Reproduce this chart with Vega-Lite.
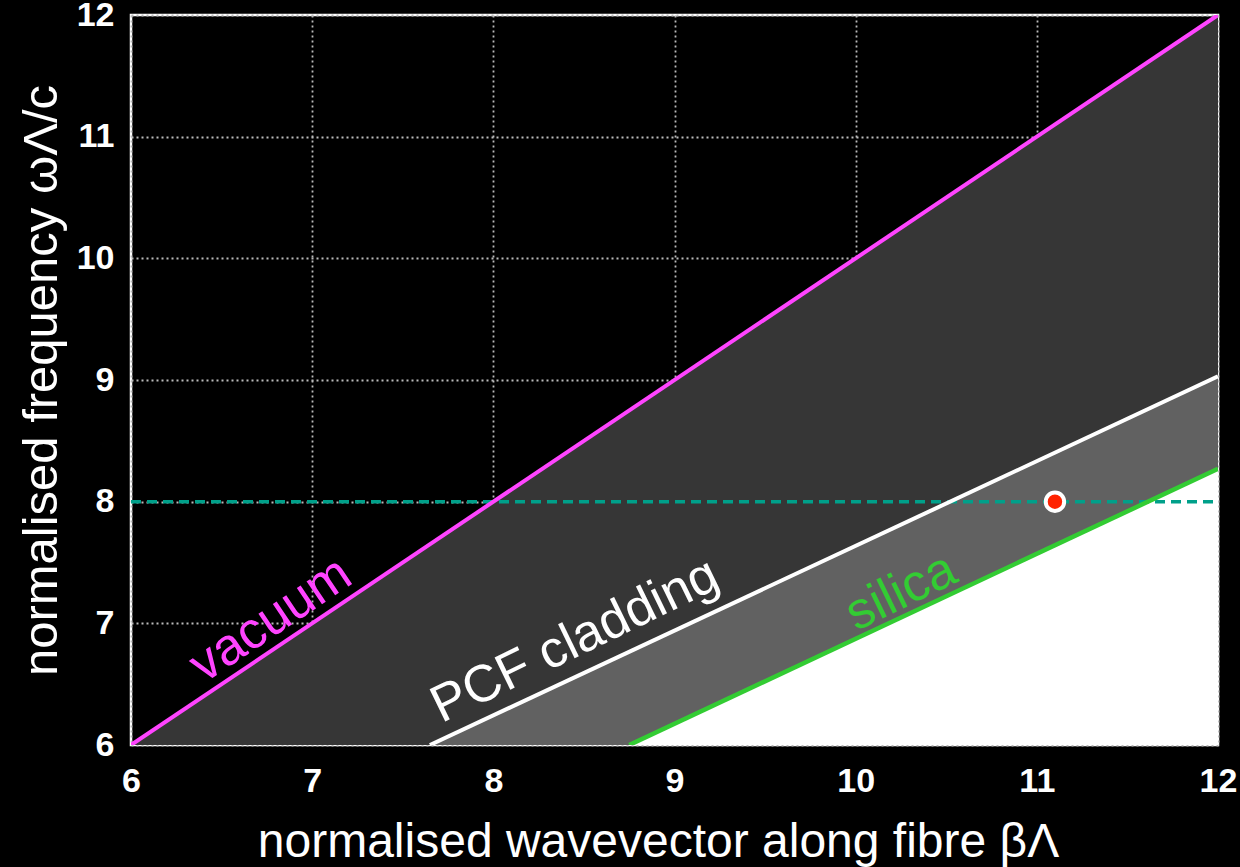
{
  "$schema": "https://vega.github.io/schema/vega-lite/v6.json",
  "width": 1087,
  "height": 730,
  "autosize": {"type": "none"},
  "padding": {"left": 131, "top": 15, "right": 22, "bottom": 122},
  "background": "#000000",
  "config": {
    "view": {"stroke": "#ffffff", "strokeWidth": 2.5, "fill": "#000000"},
    "font": "Liberation Sans",
    "axis": {
      "zindex": 1,
      "domain": false,
      "ticks": false,
      "grid": true,
      "gridColor": "#bbbbbb",
      "gridDash": [2, 3],
      "gridWidth": 1.8,
      "gridOpacity": 1,
      "labelColor": "#ffffff",
      "labelFont": "Liberation Sans",
      "labelFontSize": 34,
      "labelFontWeight": "bold",
      "labelFlush": false,
      "labelOverlap": false,
      "titleColor": "#ffffff",
      "titleFont": "Liberation Sans",
      "titleFontWeight": "normal"
    }
  },
  "datasets": {
    "curves": [
      {"curve": "vacuum", "beta": 6, "omega": 6},
      {"curve": "vacuum", "beta": 12, "omega": 12},
      {"curve": "pcf", "beta": 7.65, "omega": 6},
      {"curve": "pcf", "beta": 12, "omega": 9.03},
      {"curve": "silica", "beta": 8.75, "omega": 6},
      {"curve": "silica", "beta": 12, "omega": 8.27},
      {"curve": "frequency", "beta": 6, "omega": 8},
      {"curve": "frequency", "beta": 12, "omega": 8}
    ],
    "labels": [
      {"label": "vacuum", "beta": 6.77, "omega": 7.03},
      {"label": "PCF cladding", "beta": 8.45, "omega": 6.86},
      {"label": "silica", "beta": 10.25, "omega": 7.26}
    ],
    "mode": [
      {"beta": 11.1, "omega": 8.0}
    ]
  },
  "encoding": {
    "x": {
      "field": "beta", "type": "quantitative",
      "scale": {"domain": [6, 12], "nice": false, "zero": false},
      "axis": {"values": [6, 7, 8, 9, 10, 11, 12], "labelPadding": 19, "titlePadding": 20, "titleFontSize": 48, "titleX": 527, "title": "normalised wavevector along fibre βΛ"}
    },
    "y": {
      "field": "omega", "type": "quantitative",
      "scale": {"domain": [6, 12], "nice": false, "zero": false},
      "axis": {"values": [6, 7, 8, 9, 10, 11, 12], "labelPadding": 17, "titlePadding": 10, "titleFontSize": 49, "title": "normalised frequency ωΛ/c"}
    }
  },
  "layer": [
    {
      "data": {"name": "curves"},
      "transform": [{"filter": "datum.curve === 'vacuum'"}],
      "mark": {"type": "area", "color": "#363636", "clip": true},
      "encoding": {"y2": {"datum": 6}}
    },
    {
      "data": {"name": "curves"},
      "transform": [{"filter": "datum.curve === 'pcf'"}],
      "mark": {"type": "area", "color": "#616161", "clip": true},
      "encoding": {"y2": {"datum": 6}}
    },
    {
      "data": {"name": "curves"},
      "transform": [{"filter": "datum.curve === 'silica'"}],
      "mark": {"type": "area", "color": "#ffffff", "clip": true},
      "encoding": {"y2": {"datum": 6}}
    },
    {
      "data": {"name": "curves"},
      "transform": [{"filter": "datum.curve === 'frequency'"}],
      "mark": {"type": "line", "color": "#00a08a", "strokeWidth": 3.5, "strokeDash": [10, 6], "clip": true}
    },
    {
      "data": {"name": "curves"},
      "transform": [{"filter": "datum.curve === 'vacuum'"}],
      "mark": {"type": "line", "color": "#ff44ff", "strokeWidth": 4, "clip": true}
    },
    {
      "data": {"name": "curves"},
      "transform": [{"filter": "datum.curve === 'pcf'"}],
      "mark": {"type": "line", "color": "#ffffff", "strokeWidth": 4, "clip": true}
    },
    {
      "data": {"name": "curves"},
      "transform": [{"filter": "datum.curve === 'silica'"}],
      "mark": {"type": "line", "color": "#33cc33", "strokeWidth": 4.5, "clip": true}
    },
    {
      "data": {"name": "mode"},
      "mark": {"type": "point", "shape": "circle", "filled": true, "fill": "#ff2200", "stroke": "#ffffff", "strokeWidth": 4, "size": 340, "opacity": 1}
    },
    {
      "data": {"name": "labels"},
      "transform": [{"filter": "datum.label === 'vacuum'"}],
      "mark": {"type": "text", "color": "#ff44ff", "fontSize": 52, "angle": 326, "align": "center", "baseline": "middle", "font": "Liberation Sans"},
      "encoding": {"text": {"field": "label"}}
    },
    {
      "data": {"name": "labels"},
      "transform": [{"filter": "datum.label === 'PCF cladding'"}],
      "mark": {"type": "text", "color": "#ffffff", "fontSize": 52, "angle": 334, "align": "center", "baseline": "middle", "font": "Liberation Sans"},
      "encoding": {"text": {"field": "label"}}
    },
    {
      "data": {"name": "labels"},
      "transform": [{"filter": "datum.label === 'silica'"}],
      "mark": {"type": "text", "color": "#33cc33", "fontSize": 52, "angle": 334, "align": "center", "baseline": "middle", "font": "Liberation Sans"},
      "encoding": {"text": {"field": "label"}}
    }
  ]
}
